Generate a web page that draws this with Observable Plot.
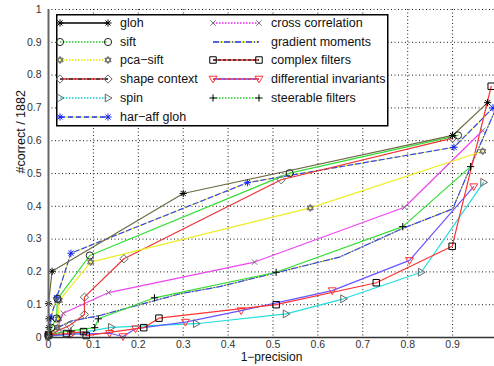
<!DOCTYPE html>
<html><head><meta charset="utf-8">
<script src="https://cdn.jsdelivr.net/npm/d3@7"></script>
<script src="https://cdn.jsdelivr.net/npm/@observablehq/plot@0.6"></script>
<style>
body{margin:0;background:#fff;}
#wrap{position:relative;width:494px;height:366px;font-family:"Liberation Sans",Arial,sans-serif;}
#legend{position:absolute;left:56px;top:14px;}
</style></head><body><div id="wrap"></div>
<script>
// ---- data (1-precision, #correct/1882) ----
const glohX = [0, 0.001, 0.001, 0.0, 0.008, 0.30, 0.90, 0.978];
const glohY = [0.01, 0.03, 0.057, 0.103, 0.202, 0.439, 0.616, 0.716];
const siftX = [0, 0.006, 0.018, 0.02, 0.092, 0.537, 0.912];
const siftY = [0.005, 0.03, 0.058, 0.118, 0.25, 0.501, 0.616];
const pcaX = [0, 0.02, 0.022, 0.024, 0.094, 0.583, 0.967];
const pcaY = [0.005, 0.03, 0.057, 0.113, 0.23, 0.395, 0.568];
const shapeX = [0, 0.02, 0.047, 0.08, 0.08, 0.168, 0.518, 0.90];
const shapeY = [0.005, 0.02, 0.037, 0.07, 0.123, 0.24, 0.481, 0.608];
const spinX = [0, 0.05, 0.14, 0.329, 0.529, 0.657, 0.83, 0.969];
const spinY = [0.003, 0.01, 0.031, 0.042, 0.072, 0.118, 0.199, 0.473];
const harX = [0, 0.005, 0.018, 0.05, 0.443, 0.903, 0.99];
const harY = [0.01, 0.06, 0.121, 0.257, 0.472, 0.58, 0.70];
const crossX = [0, 0.02, 0.033, 0.134, 0.459, 0.793, 0.967];
const crossY = [0.01, 0.03, 0.074, 0.137, 0.23, 0.397, 0.631];
const gradX = [0, 0.02, 0.05, 0.114, 0.292, 0.381, 0.648, 0.788, 0.90, 0.941, 0.993];
const gradY = [0.01, 0.03, 0.05, 0.067, 0.133, 0.155, 0.245, 0.332, 0.392, 0.524, 0.687];
const complexX = [0, 0.04, 0.078, 0.084, 0.212, 0.246, 0.507, 0.73, 0.899, 0.986];
const complexY = [0.008, 0.012, 0.018, 0.006, 0.03, 0.059, 0.10, 0.167, 0.278, 0.766];
const diffX = [0, 0.05, 0.136, 0.166, 0.194, 0.305, 0.429, 0.632, 0.804, 0.947];
const diffY = [0.005, 0.01, 0.013, 0.003, 0.027, 0.047, 0.082, 0.143, 0.235, 0.46];
const steerX = [0, 0.05, 0.103, 0.111, 0.236, 0.507, 0.789, 0.94];
const steerY = [0.01, 0.02, 0.03, 0.057, 0.121, 0.199, 0.338, 0.521];
const names = ["gloh","sift","pca\u2212sift","shape context","spin","har\u2212aff gloh",
  "cross correlation","gradient moments","complex filters","differential invariants","steerable filters"];
const xTicks = [0,0.1,0.2,0.3,0.4,0.5,0.6,0.7,0.8,0.9];
const yTicks = [0,0.1,0.2,0.3,0.4,0.5,0.6,0.7,0.8,0.9,1];
const xLabel = "1\u2212precision";
const yLabel = "#correct / 1882";

// ---- custom symbols ----
const R = s => Math.sqrt(s/Math.PI);
const sym = {
  asterisk: {draw(c,s){const r=R(s),d=r*0.72;c.moveTo(-r,0);c.lineTo(r,0);c.moveTo(0,-r);c.lineTo(0,r);c.moveTo(-d,-d);c.lineTo(d,d);c.moveTo(-d,d);c.lineTo(d,-d);}},
  circle: {draw(c,s){const r=R(s);c.moveTo(r,0);c.arc(0,0,r,0,2*Math.PI);}},
  hexagram: {draw(c,s){const r=R(s);for(const a0 of [-Math.PI/2, Math.PI/2]){for(let i=0;i<3;i++){const a=a0+i*2*Math.PI/3;const f=i?"lineTo":"moveTo";c[f](r*Math.cos(a),r*Math.sin(a));}c.closePath();}}},
  diamond: {draw(c,s){const r=R(s)*1.15;c.moveTo(0,-r);c.lineTo(r,0);c.lineTo(0,r);c.lineTo(-r,0);c.closePath();}},
  triRight: {draw(c,s){const r=R(s)*1.1;c.moveTo(-r*0.7,-r);c.lineTo(r,0);c.lineTo(-r*0.7,r);c.closePath();}},
  times: {draw(c,s){const r=R(s)*0.75;c.moveTo(-r,-r);c.lineTo(r,r);c.moveTo(-r,r);c.lineTo(r,-r);}},
  square: {draw(c,s){const r=R(s)*0.9;c.rect(-r,-r,2*r,2*r);}},
  triDown: {draw(c,s){const r=R(s)*1.1;c.moveTo(-r,-r*0.7);c.lineTo(r,-r*0.7);c.lineTo(0,r);c.closePath();}},
  plus: {draw(c,s){const r=R(s);c.moveTo(-r,0);c.lineTo(r,0);c.moveTo(0,-r);c.lineTo(0,r);}}
};

const XS=[glohX,siftX,pcaX,shapeX,spinX,harX,crossX,gradX,complexX,diffX,steerX];
const YS=[glohY,siftY,pcaY,shapeY,spinY,harY,crossY,gradY,complexY,diffY,steerY];
const styles = [
  {line:"#6d6a44", leg:"#000", dash:null, under:null, m:sym.asterisk, mc:"#000"},
  {line:"#33dd33", leg:"#22cc22", dash:"1.5,1.5", under:null, m:sym.circle, mc:"#222"},
  {line:"#eeee22", leg:"#e6e600", dash:"1.5,1.5", under:null, m:sym.hexagram, mc:"#666"},
  {line:"#ee3333", leg:"#ee2222", dash:"4,2,1,2", dashCol:"#333", under:null, m:sym.diamond, mc:"#666"},
  {line:"#22dddd", leg:"#11cccc", dash:"1.5,1.5", under:null, m:sym.triRight, mc:"#666"},
  {line:"#3344ff", leg:"#2233ff", dash:"5,3", under:"#eeee33", m:sym.asterisk, mc:"#1122ff"},
  {line:"#ee44ee", leg:"#ee22ee", dash:"1.5,1.5", under:null, m:sym.times, mc:"#777"},
  {line:"#3344ff", leg:"#2233ff", dash:"6,2,1,2", under:"#eeee33", m:null, mc:null},
  {line:"#ff3333", leg:"#ff2222", dash:"3,2", dashCol:"#333", under:null, m:sym.square, mc:"#000"},
  {line:"#6655ff", leg:"#5544ff", dash:"3,2", dashCol:"#ff3333", under:null, m:sym.triDown, mc:"#ff3333"},
  {line:"#33dd33", leg:"#22cc22", dash:"1.5,1.5", under:null, m:sym.plus, mc:"#000"}
];

const marks = [
  Plot.gridX(xTicks, {stroke:"#000", strokeOpacity:0.9, strokeDasharray:"1,2.5", strokeWidth:1}),
  Plot.gridY(yTicks.slice(1), {stroke:"#000", strokeOpacity:0.9, strokeDasharray:"1,2.5", strokeWidth:1}),
  Plot.axisX(xTicks, {tickSize:0, tickPadding:3, fontSize:10.5, fill:"#333", label:null, tickFormat: d=>d3.format("~g")(d)}),
  Plot.axisY(yTicks, {tickSize:0, tickPadding:7, fontSize:10.5, fill:"#333", label:null, tickFormat: d=>d3.format("~g")(d)}),
  Plot.text([xLabel], {text:d=>d, frameAnchor:"bottom", dy:23.5, fontSize:12, fill:"#111"}),
  Plot.text([yLabel], {text:d=>d, frameAnchor:"left", dx:-28, rotate:-90, fontSize:12.5, fill:"#111"}),
];
const order=[7,5,4,9,8,6,10,3,2,1,0];
for (const i of order) {
  const d = XS[i].map((x,k)=>({x, y:YS[i][k]}));
  const st = styles[i];
  if (st.under) marks.push(Plot.line(d,{x:"x",y:"y",stroke:st.under,strokeWidth:1.2}));
  marks.push(Plot.line(d,{x:"x",y:"y",stroke:st.line,strokeWidth:1.2,strokeDasharray: st.under? st.dash : null}));
}
for (const i of order) {
  const st = styles[i];
  if (!st.m) continue;
  const d = XS[i].map((x,k)=>({x, y:YS[i][k]}));
  marks.push(Plot.dot(d,{x:"x",y:"y",symbol:st.m,r:3.6,stroke:st.mc,fill:"none",strokeWidth:1}));
}
marks.push(Plot.ruleX([0],{stroke:"#666",strokeWidth:2}));
marks.push(Plot.ruleY([0],{stroke:"#333",strokeWidth:1.5}));

const chart = Plot.plot({
  width:494, height:366,
  marginLeft:48, marginRight:0, marginTop:9, marginBottom:29,
  style:{fontFamily:"'Liberation Sans', Arial, sans-serif", fontSize:"12px", color:"#333", background:"#fff"},
  x:{domain:[0,0.9933], ticks:[]},
  y:{domain:[0,1]},
  marks
});
const wrap=document.getElementById("wrap");
wrap.appendChild(chart);

// ---- legend overlay ----
const L = d3.select(wrap).append("svg").attr("id","legend").attr("width",333).attr("height",113);
L.append("rect").attr("x",0.75).attr("y",0.75).attr("width",331).attr("height",111).attr("fill","#fff").attr("stroke","#000").attr("stroke-width",1.5);
const rowY=[9,28,46,65,84,103];
names.forEach((nm,i)=>{
  const st=styles[i];
  const col = i<6?0:1, row = i<6?i:i-6;
  const x0 = col? 157:4, x1 = col? 203:52, tx = col? 215:64, y=rowY[row];
  if (st.under) L.append("line").attr("x1",x0).attr("x2",x1).attr("y1",y).attr("y2",y).attr("stroke",st.under).attr("stroke-width",1.3);
  L.append("line").attr("x1",x0).attr("x2",x1).attr("y1",y).attr("y2",y).attr("stroke",st.leg).attr("stroke-width",1.3).attr("stroke-dasharray", st.under||!st.dashCol? st.dash : null);
  if (st.dashCol) L.append("line").attr("x1",x0).attr("x2",x1).attr("y1",y).attr("y2",y).attr("stroke",st.dashCol).attr("stroke-width",1.3).attr("stroke-dasharray",st.dash);
  if (st.m) for (const mx of [x0,x1]) {
    L.append("path").attr("d", d3.symbol(st.m, 3.6*3.6*Math.PI)()).attr("transform",`translate(${mx},${y})`).attr("fill","none").attr("stroke",st.mc).attr("stroke-width",1);
  }
  L.append("text").attr("x",tx).attr("y",y).attr("dy","0.35em").attr("font-size","12.5px").attr("fill","#111").attr("font-family","'Liberation Sans', Arial, sans-serif").text(nm);
});
</script></body></html>
